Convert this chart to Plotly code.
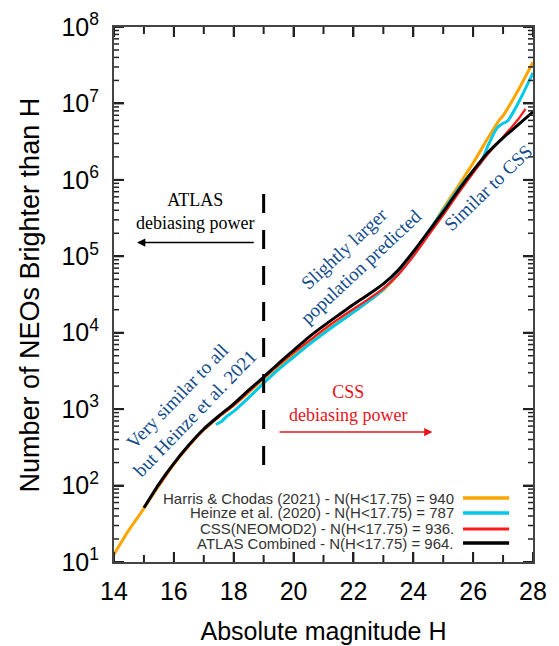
import plotly.graph_objects as go

# ---- data ----
H_harris = [14.0, 14.5, 15.0, 15.5, 16.0, 16.5, 17.0, 17.5, 18.0, 18.5, 19.0, 19.5, 20.0, 20.5,
            21.0, 21.5, 22.0, 22.5, 23.0, 23.5, 24.0, 24.5, 25.0, 25.5, 26.0, 26.5, 26.85, 27.0, 27.5, 28.0]
logN_harris = [1.10, 1.42, 1.70, 2.00, 2.28, 2.52, 2.73, 2.90, 3.05, 3.22, 3.40, 3.56, 3.71, 3.86,
               4.01, 4.14, 4.27, 4.41, 4.56, 4.77, 5.03, 5.31, 5.62, 5.92, 6.22, 6.55, 6.77, 6.84, 7.17, 7.54]

H_heinze = [17.4, 17.6, 17.75, 18.0, 18.5, 19.0, 19.5, 20.0, 20.5, 21.0, 21.5, 22.0, 22.5, 23.0,
            23.5, 24.0, 24.5, 25.0, 25.5, 26.0, 26.25, 26.5, 26.8, 27.0, 27.15, 27.5, 28.0]
logN_heinze = [2.80, 2.84, 2.90, 2.97, 3.15, 3.34, 3.52, 3.68, 3.84, 3.99, 4.13, 4.27, 4.41, 4.57,
               4.78, 5.04, 5.32, 5.60, 5.88, 6.12, 6.22, 6.45, 6.68, 6.74, 6.77, 7.00, 7.40]

H_css = [15.5, 16.0, 16.5, 17.0, 17.5, 18.0, 18.5, 19.0, 19.5, 20.0, 20.5, 21.0, 21.5, 22.0,
         22.5, 23.0, 23.5, 24.0, 24.5, 25.0, 25.5, 26.0, 26.5, 27.0, 27.5, 27.75]
logN_css = [2.00, 2.28, 2.52, 2.73, 2.90, 3.05, 3.23, 3.41, 3.58, 3.74, 3.89, 4.04, 4.18, 4.31,
            4.44, 4.58, 4.76, 5.00, 5.27, 5.54, 5.82, 6.09, 6.34, 6.56, 6.79, 6.93]

H_atlas = [15.0, 15.5, 16.0, 16.5, 17.0, 17.5, 18.0, 18.5, 19.0, 19.5, 20.0, 20.5, 21.0, 21.5,
           22.0, 22.5, 23.0, 23.5, 24.0, 24.5, 25.0, 25.5, 26.0, 26.5, 27.0, 27.5, 28.0]
logN_atlas = [1.71, 2.02, 2.29, 2.53, 2.74, 2.91, 3.07, 3.25, 3.42, 3.60, 3.77, 3.94, 4.09, 4.23,
              4.37, 4.50, 4.64, 4.82, 5.06, 5.32, 5.58, 5.86, 6.12, 6.36, 6.55, 6.72, 6.89]

series_names = [
    "Harris & Chodas (2021) - N(H<17.75) = 940",
    "Heinze et al. (2020) - N(H<17.75) = 787",
    "CSS(NEOMOD2) - N(H<17.75) = 936.",
    "ATLAS Combined - N(H<17.75) = 964.",
]
series_colors = ["#FFA500", "#00C8E8", "#FF1A1A", "#000000"]
series_widths = [3, 3, 2.2, 3]
series_H = [H_harris, H_heinze, H_css, H_atlas]
series_logN = [logN_harris, logN_heinze, logN_css, logN_atlas]

x_major = [14, 16, 18, 20, 22, 24, 26, 28]
x_minor = [15, 17, 19, 21, 23, 25, 27]
y_exponents = [1, 2, 3, 4, 5, 6, 7, 8]
y_major = [10 ** e for e in y_exponents]
y_labels = ["10<sup>%d</sup>" % e for e in y_exponents]
y_minor = [m * 10 ** e for e in y_exponents[:-1] for m in range(2, 10)]

SERIF = "Liberation Serif, Times New Roman, serif"
SANS = "Liberation Sans, Arial, Helvetica, sans-serif"
BLUE = "#124C8A"
AXC = "#444444"
TKC = "#222222"

fig = go.Figure()
for h, ln, c, w, n in zip(series_H, series_logN, series_colors, series_widths, series_names):
    fig.add_trace(go.Scatter(x=h, y=[10 ** v for v in ln], mode="lines",
                             line=dict(color=c, width=w, shape="spline", smoothing=0.6),
                             name=n, showlegend=False))

# dashed divider at H = 19
fig.add_shape(type="line", xref="x", yref="y", x0=19, x1=19, y0=10 ** 2.27, y1=10 ** 5.84,
              line=dict(color="black", width=3, dash="19px,17px"))


# axis ticks (inside, on all four sides), anchored at the tick values
def xtick(v, length, width):
    for anchor, sign in ((0, 1), (1, -1)):
        fig.add_shape(type="line", xref="x", yref="paper", x0=v, x1=v, ysizemode="pixel",
                      yanchor=anchor, y0=0, y1=sign * length, line=dict(color=TKC, width=width))


def ytick(v, length, width):
    for anchor, sign in ((0, 1), (1, -1)):
        fig.add_shape(type="line", yref="y", xref="paper", y0=v, y1=v, xsizemode="pixel",
                      xanchor=anchor, x0=0, x1=sign * length, line=dict(color=TKC, width=width))


for v in x_major:
    xtick(v, 10, 2)
for v in x_minor:
    xtick(v, 7, 2)
for v in y_major:
    ytick(v, 10, 2)
for v in y_minor:
    ytick(v, 5, 1.5)

annotations = []
annotations.append(dict(x=16.71, y=5.59, xref="x", yref="y", text="ATLAS<br>debiasing power",
                        showarrow=False, font=dict(family=SERIF, size=18, color="black")))
annotations.append(dict(x=14.77, y=5.18, ax=18.72, ay=5.18, xref="x", yref="y", axref="x", ayref="y",
                        text="", showarrow=True, arrowhead=2, arrowsize=1.1, arrowwidth=1.5,
                        arrowcolor="black"))
annotations.append(dict(x=21.83, y=3.07, xref="x", yref="y", text="CSS<br>debiasing power",
                        showarrow=False, font=dict(family=SERIF, size=18, color="#E8141A")))
annotations.append(dict(x=24.64, y=2.70, ax=19.48, ay=2.70, xref="x", yref="y", axref="x", ayref="y",
                        text="", showarrow=True, arrowhead=2, arrowsize=1.1, arrowwidth=1.5,
                        arrowcolor="#E8141A"))
annotations.append(dict(x=16.41, y=3.05, xref="x", yref="y", text="Very similar to all<br>but Heinze et al. 2021",
                        showarrow=False, textangle=-46, font=dict(family=SERIF, size=19, color=BLUE)))
annotations.append(dict(x=21.96, y=4.98, xref="x", yref="y", text="Slightly larger<br>population predicted",
                        showarrow=False, textangle=-43, font=dict(family=SERIF, size=19, color=BLUE)))
annotations.append(dict(x=26.51, y=5.90, xref="x", yref="y", text="Similar to CSS",
                        showarrow=False, textangle=-44, font=dict(family=SERIF, size=19, color=BLUE)))
# y-axis title
annotations.append(dict(x=-0.2005, y=0.5, xref="paper", yref="paper", text="Number of NEOs Brighter than H",
                        showarrow=False, textangle=-90, xanchor="center", yanchor="middle",
                        font=dict(family=SANS, size=27, color="black")))

# legend (text to the left of the line sample)
leg_y = [0.1196, 0.0916, 0.0617, 0.0355]
for n, c, w, yy in zip(series_names, series_colors, series_widths, leg_y):
    annotations.append(dict(x=0.816, y=yy, xref="paper", yref="paper", text=n, showarrow=False,
                            xanchor="right", yanchor="middle",
                            font=dict(family=SANS, size=15, color="#333333")))
    fig.add_shape(type="line", xref="paper", yref="paper", x0=0.833, x1=0.943, y0=yy, y1=yy,
                  line=dict(color=c, width=3.5 if w >= 3 else 3))

# the page body adds an 8 px offset, so the figure is 8 px smaller than the window
fig.update_layout(
    width=551, height=638,
    margin=dict(l=106, r=26, t=19, b=84),
    paper_bgcolor="white", plot_bgcolor="white",
    annotations=annotations,
    font=dict(family=SANS, color="black"),
)
fig.update_xaxes(
    range=[14, 28], tickmode="array", tickvals=x_major,
    ticks="inside", ticklen=10, tickwidth=2, tickcolor=TKC,
    showline=True, linecolor=AXC, linewidth=2, mirror="allticks",
    showgrid=False, zeroline=False, automargin=False, ticklabelstandoff=6,
    tickfont=dict(family=SANS, size=25, color="black"),
    title=dict(text="Absolute magnitude H", font=dict(family=SANS, size=25, color="black"), standoff=18),
)
fig.update_yaxes(
    type="log", range=[1, 8], tickmode="array", tickvals=y_major, ticktext=y_labels,
    ticks="inside", ticklen=10, tickwidth=2, tickcolor=TKC,
    showline=True, linecolor=AXC, linewidth=2, mirror="allticks",
    showgrid=False, zeroline=False, automargin=False, ticklabelstandoff=8,
    tickfont=dict(family=SANS, size=25, color="black"),
)

fig.write_html("out.html")
